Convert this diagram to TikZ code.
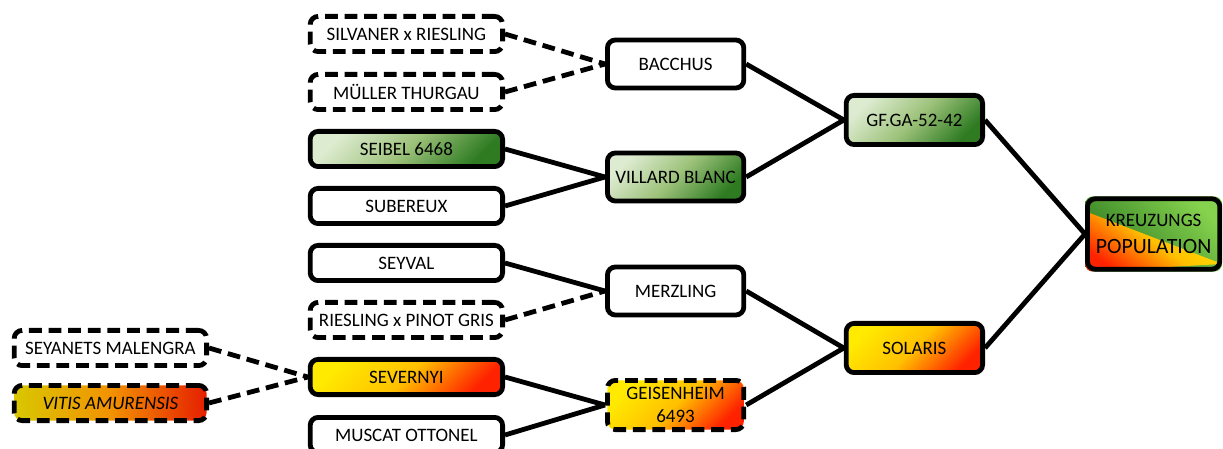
\documentclass[tikz,border=0pt]{standalone}
\usepackage{fontspec}
\setmainfont{Carlito}
\usetikzlibrary{backgrounds}

\definecolor{hellgruen}{HTML}{DDEBD0}
\definecolor{mittelgruen}{HTML}{9DC27A}
\definecolor{dunkelgruen}{HTML}{2E7B22}
\definecolor{maigruen}{HTML}{86D24E}
\definecolor{gelb}{HTML}{FFEA00}
\definecolor{goldgelb}{HTML}{FFC000}
\definecolor{mittelorange}{HTML}{FF9A00}
\definecolor{rot}{HTML}{FF2200}

\tikzset{
  sorte/.style={draw, line width=0.12cm, rounded corners=0.2cm, inner sep=0pt, align=center,
    font=\fontsize{13.5}{15}\selectfont},
  eltern/.style={sorte, minimum width=4.81cm, minimum height=0.88cm},
  kreuzung/.style={sorte, minimum width=3.41cm, minimum height=1.2cm},
  unsicher/.style={dash pattern=on 0.32cm off 0.17cm},
  gruen/.style={left color=hellgruen, right color=dunkelgruen, middle color=mittelgruen, shading angle=45},
  gelbrot/.style={left color=gelb, right color=rot, middle color=goldgelb, shading angle=45},
  linie/.style={line width=0.12cm},
}

\begin{document}
\begin{tikzpicture}
        \useasboundingbox (0, 0) rectangle (30.575, 11.2);

        % Eltern
        \node[eltern, unsicher] (seyanets) at (2.76, 2.5) {SEYANETS MALENGRA};
        \node[eltern, unsicher, left color=gelb!85!black, right color=rot!90!black, middle color=mittelorange!95!black] (vitis) at (2.76, 1.125) {\textit{VITIS AMURENSIS}};

        \node[eltern, unsicher] (silvaner) at (10.16, 10.35) {SILVANER x RIESLING};
        \node[eltern, unsicher] (mueller) at (10.16, 8.9) {MÜLLER THURGAU};
        \node[eltern, gruen] (seibel) at (10.16, 7.475) {SEIBEL 6468};
        \node[eltern] (subereux) at (10.16, 6.05) {SUBEREUX};
        \node[eltern] (seyval) at (10.16, 4.625) {SEYVAL};
        \node[eltern, unsicher] (riesling) at (10.16, 3.2) {RIESLING x PINOT GRIS};
        \node[eltern, gelbrot] (severnyi) at (10.16, 1.775) {SEVERNYI};
        \node[eltern] (muscat) at (10.16, 0.325) {MUSCAT OTTONEL};

        % Kreuzungen
        \node[kreuzung] (bacchus) at (16.89, 9.6) {BACCHUS};
        \node[kreuzung, gruen] (villard) at (16.89, 6.775) {VILLARD BLANC};
        \node[kreuzung] (merzling) at (16.89, 3.925) {MERZLING};
        \node[kreuzung, gelbrot, unsicher, minimum height=1.23cm] (geisenheim) at (16.89, 1.075) {GEISENHEIM\\[1pt]6493};

        \node[kreuzung, gruen, minimum height=1.23cm] (gfga) at (22.86, 8.2) {GF.GA-52-42};
        \node[kreuzung, gelbrot, minimum height=1.23cm] (solaris) at (22.86, 2.5) {SOLARIS};

        \node[sorte, minimum width=3.31cm, minimum height=1.76cm] (kreuz) at (28.84, 5.35)
          {KREUZUNGS\\[4pt]{\fontsize{15.5}{17}\selectfont POPULATION}};
        \begin{scope}[on background layer]
          \clip[rounded corners=0.2cm] (kreuz.south west) rectangle (kreuz.north east);
          \shade[top color=maigruen, bottom color=dunkelgruen, shading angle=-45] (kreuz.south west) rectangle (kreuz.north east);
          \shade[top color=gelb, bottom color=rot, middle color=goldgelb, shading angle=-35] (kreuz.south west) -- ([yshift=-0.37cm]kreuz.north west) -- ([yshift=0.19cm]kreuz.south east) -- cycle;
        \end{scope}

        % Linien
        \draw[linie, unsicher] (silvaner.east) -- (bacchus.west);
        \draw[linie, unsicher] (mueller.east) -- (bacchus.west);
        \draw[linie] (seibel.east) -- (villard.west);
        \draw[linie] (subereux.east) -- (villard.west);
        \draw[linie] (seyval.east) -- (merzling.west);
        \draw[linie, unsicher] (riesling.east) -- (merzling.west);
        \draw[linie, unsicher] (seyanets.east) -- (severnyi.west);
        \draw[linie, unsicher] (vitis.east) -- (severnyi.west);
        \draw[linie] (severnyi.east) -- (geisenheim.west);
        \draw[linie] (muscat.east) -- (geisenheim.west);

        \draw[linie] (bacchus.east) -- (gfga.west);
        \draw[linie] (villard.east) -- (gfga.west);
        \draw[linie] (merzling.east) -- (solaris.west);
        \draw[linie] (geisenheim.east) -- (solaris.west);

        \draw[linie] (gfga.east) -- (kreuz.west);
        \draw[linie] (solaris.east) -- (kreuz.west);
      \end{tikzpicture}
\end{document}
